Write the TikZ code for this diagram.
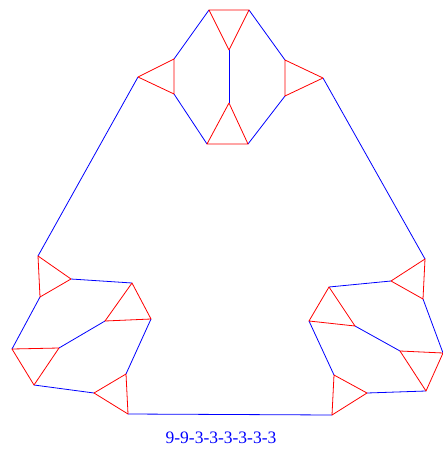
\documentclass[tikz,border=0pt]{standalone}
\usepackage{fontspec}
\setmainfont{Liberation Serif}
\usetikzlibrary{positioning}

\begin{document}
\begin{tikzpicture}[x=1pt, y=-1pt,
    tri/.style={draw=red, line width=0.8pt, line join=round},
    link/.style={draw=blue, line width=0.8pt}]
    \useasboundingbox (0,0) rectangle (443,450);

    \coordinate (a1) at (209,10);
    \coordinate (a2) at (249,10);
    \coordinate (a3) at (229,50);
    \coordinate (b1) at (229,103);
    \coordinate (b2) at (207,144);
    \coordinate (b3) at (248,144);
    \coordinate (c1) at (174,59);
    \coordinate (c2) at (174,94);
    \coordinate (c3) at (138,77);
    \coordinate (d1) at (285,60);
    \coordinate (d2) at (285,96);
    \coordinate (d3) at (323,78);

    \coordinate (p1) at (38,256);
    \coordinate (p2) at (71,279);
    \coordinate (p3) at (40,297);
    \coordinate (q1) at (132,283);
    \coordinate (q2) at (151,319);
    \coordinate (q3) at (105,321);
    \coordinate (r1) at (12,349);
    \coordinate (r2) at (59,348);
    \coordinate (r3) at (34,385);
    \coordinate (s1) at (94,393);
    \coordinate (s2) at (126,374);
    \coordinate (s3) at (128,414);

    \coordinate (t1) at (425,259);
    \coordinate (t2) at (391,281);
    \coordinate (t3) at (423,299);
    \coordinate (u1) at (329,287);
    \coordinate (u2) at (309,321);
    \coordinate (u3) at (355,326);
    \coordinate (v1) at (443,353);
    \coordinate (v2) at (400,351);
    \coordinate (v3) at (426,391);
    \coordinate (w1) at (367,393);
    \coordinate (w2) at (334,375);
    \coordinate (w3) at (332,415);

    \draw[link] (a1) -- (c1);
    \draw[link] (c2) -- (b2);
    \draw[link] (a2) -- (d1);
    \draw[link] (d2) -- (b3);
    \draw[link] (a3) -- (b1);
    \draw[link] (c3) -- (p1);
    \draw[link] (d3) -- (t1);

    \draw[link] (p2) -- (q1);
    \draw[link] (p3) -- (r1);
    \draw[link] (q3) -- (r2);
    \draw[link] (r3) -- (s1);
    \draw[link] (q2) -- (s2);
    \draw[link] (s3) -- (w3);

    \draw[link] (t2) -- (u1);
    \draw[link] (t3) -- (v1);
    \draw[link] (u3) -- (v2);
    \draw[link] (v3) -- (w1);
    \draw[link] (u2) -- (w2);

    \draw[tri] (a1) -- (a2) -- (a3) -- cycle;
    \draw[tri] (b1) -- (b2) -- (b3) -- cycle;
    \draw[tri] (c1) -- (c2) -- (c3) -- cycle;
    \draw[tri] (d1) -- (d2) -- (d3) -- cycle;
    \draw[tri] (p1) -- (p2) -- (p3) -- cycle;
    \draw[tri] (q1) -- (q2) -- (q3) -- cycle;
    \draw[tri] (r1) -- (r2) -- (r3) -- cycle;
    \draw[tri] (s1) -- (s2) -- (s3) -- cycle;
    \draw[tri] (t1) -- (t2) -- (t3) -- cycle;
    \draw[tri] (u1) -- (u2) -- (u3) -- cycle;
    \draw[tri] (v1) -- (v2) -- (v3) -- cycle;
    \draw[tri] (w1) -- (w2) -- (w3) -- cycle;

    \node[text=blue, font=\fontsize{17.5}{20}\selectfont] (name) at (221,438) {9-9-3-3-3-3-3-3};
\end{tikzpicture}
\end{document}
